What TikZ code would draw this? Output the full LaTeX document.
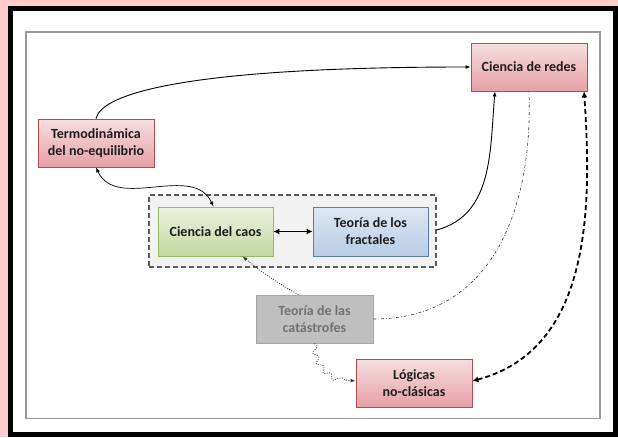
\documentclass[tikz,border=0pt]{standalone}
\usepackage{fontspec}
\setmainfont{Carlito}
\usetikzlibrary{arrows.meta,shadows,decorations.pathmorphing}
\definecolor{pinkbg}{RGB}{255,204,204}
\definecolor{redtop}{RGB}{246,222,224}
\definecolor{redbot}{RGB}{230,160,166}
\definecolor{redline}{RGB}{188,72,80}
\definecolor{greentop}{RGB}{236,242,224}
\definecolor{greenbot}{RGB}{196,216,160}
\definecolor{greenline}{RGB}{150,185,95}
\definecolor{bluetop}{RGB}{222,232,244}
\definecolor{bluebot}{RGB}{184,204,228}
\definecolor{blueline}{RGB}{90,125,170}
\definecolor{greyfill}{RGB}{191,191,191}
\definecolor{greyline}{RGB}{165,165,165}
\definecolor{greytext}{RGB}{115,115,115}
\definecolor{textcol}{RGB}{30,30,30}
\begin{document}
\begin{tikzpicture}
  [x=1pt,y=1pt,
   font=\fontsize{14}{17}\selectfont\bfseries,
   >={Latex[length=5pt,width=4pt]},
   box/.style={rectangle,thick,minimum width=116pt,minimum height=48pt,
     align=center,text=textcol,inner sep=2pt,
     drop shadow={opacity=0.25,shadow xshift=1.2pt,shadow yshift=-1.2pt}},
   redbox/.style={box,draw=redline,top color=redtop,bottom color=redbot},
   greenbox/.style={box,draw=greenline,top color=greentop,bottom color=greenbot},
   bluebox/.style={box,draw=blueline,top color=bluetop,bottom color=bluebot},
   greybox/.style={box,draw=greyline,fill=greyfill,text=greytext},
   groupbox/.style={rectangle,draw=black!65,fill=black!5,line width=1.4pt,
     dash pattern=on 5pt off 3pt,minimum width=287pt,minimum height=72pt},
   link/.style={black,line width=0.9pt},
   thicklink/.style={black,line width=1.8pt,>={Latex[length=6pt,width=6pt]}},
   dashdot/.style={black!80,line width=0.6pt,dash pattern=on 3pt off 2pt on 0.6pt off 2pt},
   dots/.style={black!75,line width=0.8pt,dash pattern=on 1pt off 1.4pt}]
  % frame
  \useasboundingbox (0,0) rectangle (618,-437);
  \fill [pinkbg] (0,0) rectangle (618,-437);
  \fill [black] (8,-6) rectangle (618,-437);
  \fill [white] (13,-11) rectangle (613,-432);
  \draw [black!40,line width=1.3pt] (26,-32) rectangle (600,-418.5);
  % nodes
  \node at (292.5,-231) (group) [groupbox] {};
  \node at (529,-67) (redes) [redbox] {Ciencia de redes};
  \node at (96,-143) (termo) [redbox] {Termodinámica\\del no-equilibrio};
  \node at (215.5,-231.5) (caos) [greenbox,minimum width=115pt,minimum height=49pt] {Ciencia del caos};
  \node at (370.5,-231.5) (fract) [bluebox,minimum width=115pt,minimum height=49pt] {Teoría de los\\fractales};
  \node at (314.5,-319) (catas) [greybox,minimum width=117pt] {Teoría de las\\catástrofes};
  \node at (414,-383) (logic) [redbox] {Lógicas\\no-clásicas};
  % connectors
  \draw [link,->] (termo.north) .. controls +(5,24) and +(-290,0) .. (redes.west);
  \draw [link,<->,line width=0.7pt] (termo.south) to [out=-65,in=115] ([xshift=-2pt]caos.north);
  \draw [thicklink,<->] (caos) to (fract);
  \draw [link,->] ([yshift=1pt]group.east) to [out=15,in=-95] ([xshift=-34pt]redes.south);
  \draw [dots,->] ([xshift=-16pt]catas.north) to [bend left=5] ([xshift=27pt]caos.south);
  \draw [dashdot] (catas.east) to [out=0,in=-88,looseness=1.1] (redes.south);
  \draw [dots,->,decorate,decoration={snake,amplitude=2.5pt,segment length=11pt,post length=8pt}]
    (catas.south) to [out=-90,in=180] ([yshift=2pt]logic.west);
  \draw [thicklink,<->,dash pattern=on 5pt off 3pt] ([yshift=2pt]logic.east) to [out=15,in=-86] ([xshift=55pt]redes.south);
\end{tikzpicture}
\end{document}
